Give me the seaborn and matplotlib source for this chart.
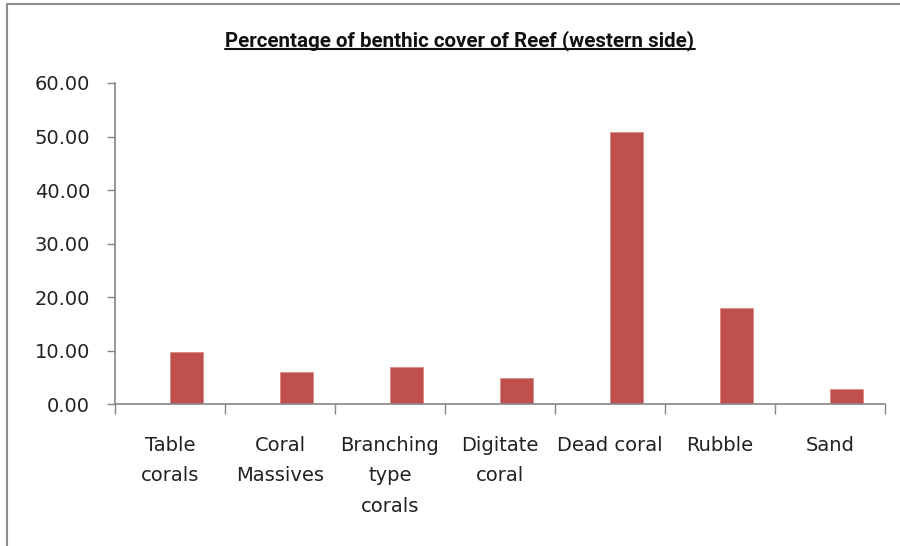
import matplotlib
matplotlib.use("Agg")
import matplotlib.pyplot as plt
from matplotlib.lines import Line2D
from matplotlib.patches import Rectangle
from matplotlib.ticker import FixedLocator, FormatStrFormatter
import pandas as pd
import seaborn as sns

# Benthic cover categories and their percentage cover
categories = ["Table\ncorals", "Coral\nMassives", "Branching\ntype\ncorals",
              "Digitate\ncoral", "Dead coral", "Rubble", "Sand"]
cover_pct = [9.8, 6.0, 6.9, 5.0, 50.9, 18.0, 2.9]
y_ticks = [0, 10, 20, 30, 40, 50, 60]
title = "Percentage of benthic cover of Reef (western side)"

sns.set_theme(style="white")
plt.rcParams["font.family"] = ["DejaVu Sans"]

df = pd.DataFrame({"category": categories, "cover": cover_pct, "series": "cover"})

W, H = 900, 546
fig = plt.figure(figsize=(W / 100, H / 100), dpi=100)
fig.patch.set_facecolor("white")

# outer chart frame (left and top edges visible)
fig.add_artist(Rectangle((7 / W, -0.05), 1.2, (H - 4) / H + 0.05,
                         transform=fig.transFigure, fill=False,
                         edgecolor="#8c8c8c", linewidth=1.5))

ax_left, ax_right, ax_bottom, ax_top = 115, 885, 404.3, 83
ax = fig.add_axes([ax_left / W, 1 - ax_bottom / H,
                   (ax_right - ax_left) / W, (ax_bottom - ax_top) / H])

# an empty leading series keeps each bar on the right half of its category slot
sns.barplot(data=df, x="category", y="cover", hue="series",
            hue_order=["blank", "cover"],
            palette={"blank": "#4F81BD", "cover": "#C0504D"},
            width=0.6, dodge=True, legend=False, saturation=1,
            edgecolor="#d98a88", linewidth=0.6, ax=ax)

ax.set_xlim(-0.5, len(categories) - 0.5)
ax.set_ylim(0, 60)
ax.set_xlabel("")
ax.set_ylabel("")

# y axis
ax.yaxis.set_major_locator(FixedLocator(y_ticks))
ax.yaxis.set_major_formatter(FormatStrFormatter("%.2f"))
ax.tick_params(axis="y", which="major", left=True, length=6, width=1,
               color="#868686", direction="out", pad=12,
               labelsize=14, labelcolor="#222222")

# x axis: tick marks at slot boundaries, labels at slot centres
ax.xaxis.set_major_locator(FixedLocator([i - 0.5 for i in range(len(categories) + 1)]))
ax.xaxis.set_minor_locator(FixedLocator(list(range(len(categories)))))
ax.set_xticklabels([""] * (len(categories) + 1))
ax.set_xticklabels(categories, minor=True, fontsize=14, color="#222222",
                   linespacing=1.75, va="top")
ax.tick_params(axis="x", which="major", bottom=True, length=7, width=1,
               color="#868686", direction="out")
ax.tick_params(axis="x", which="minor", bottom=True, length=0, pad=23)

for side in ["top", "right"]:
    ax.spines[side].set_visible(False)
for side in ["left", "bottom"]:
    ax.spines[side].set_color("#868686")
    ax.spines[side].set_linewidth(1.2)
ax.grid(False)

# underlined bold title
baseline_px = 46
t = fig.text(460 / W, 1 - baseline_px / H, title, ha="center", va="baseline",
             fontsize=14.8, fontweight="bold", color="#111111",
             family=["Roboto", "DejaVu Sans"])
fig.canvas.draw()
bb = t.get_window_extent(renderer=fig.canvas.get_renderer())
uy = 1 - (baseline_px + 2.8) / H
fig.add_artist(Line2D([bb.x0 / W, bb.x1 / W], [uy, uy],
                      transform=fig.transFigure, color="#111111", linewidth=1.5))

fig.savefig("out.png", dpi=100, facecolor="white")
